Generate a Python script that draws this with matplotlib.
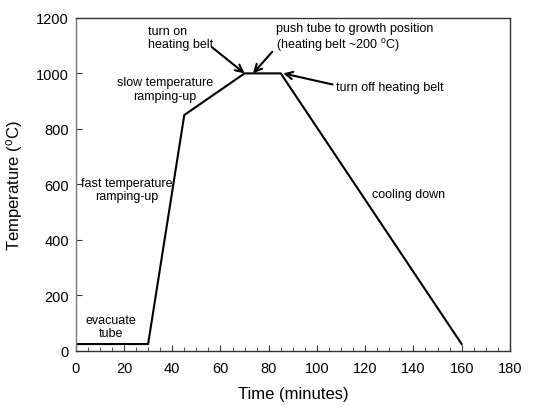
import matplotlib
matplotlib.use("Agg")
import matplotlib.pyplot as plt
from matplotlib.ticker import MultipleLocator

plt.rcParams['font.family'] = ['Liberation Sans', 'DejaVu Sans']
plt.rcParams['mathtext.fontset'] = 'custom'
plt.rcParams['mathtext.rm'] = 'Liberation Sans'
plt.rcParams['mathtext.it'] = 'Liberation Sans'

# data
time_min = [0, 30, 45, 70, 85, 160]
temp_c = [25, 25, 850, 1000, 1000, 25]

labels = ["evacuate\ntube", "fast temperature\nramping-up", "slow temperature\nramping-up", "cooling down"]
label_pos = [(14.5, 89), (21, 582), (37, 944), (138, 564)]

arrow_texts = ["turn on\nheating belt", "push tube to growth position\n(heating belt ~200 $^{\\mathrm{o}}$C)", "turn off heating belt"]
arrow_text_pos = [(30, 1130), (83, 1130), (107.8, 952)]
arrow_start = [(56.5, 1094), (81.5, 1078), (106.5, 960)]
arrow_tip = [(70, 1000), (73.5, 1000), (86, 1000)]

fig = plt.figure(figsize=(5.53, 4.10), dpi=100)
ax = fig.add_axes([0.137, 0.1415, 0.785, 0.8125])

ax.plot(time_min, temp_c, color='black', lw=1.5)

ax.set_xlim(0, 180)
ax.set_ylim(0, 1200)
ax.xaxis.set_major_locator(MultipleLocator(20))
ax.xaxis.set_minor_locator(MultipleLocator(5))
ax.yaxis.set_major_locator(MultipleLocator(200))
ax.tick_params(axis='both', which='both', direction='in', top=False, right=False, labelsize=10.5, color='#333333')
ax.tick_params(axis='both', which='major', length=4, pad=5)
ax.tick_params(axis='x', which='major', pad=7)
ax.tick_params(axis='x', which='minor', length=3)
for s in ax.spines.values():
    s.set_color('#333333')
    s.set_linewidth(1.0)
ax.spines['left'].set_color('#777777')

ax.set_xlabel("Time (minutes)", fontsize=12, labelpad=8)
ax.set_ylabel("Temperature ($^{\\mathrm{o}}$C)", fontsize=12, labelpad=8)

for txt, (x, y) in zip(labels, label_pos):
    ax.text(x, y, txt, ha='center', va='center', fontsize=9, linespacing=1.15)

for txt, (x, y) in zip(arrow_texts, arrow_text_pos):
    ax.text(x, y, txt, ha='left', va='center', fontsize=9, linespacing=1.15)

for (x0, y0), (x1, y1) in zip(arrow_start, arrow_tip):
    ax.annotate('', xy=(x1, y1), xytext=(x0, y0),
                arrowprops=dict(arrowstyle='->', color='black', lw=1.5,
                                shrinkA=0, shrinkB=0, mutation_scale=13))

fig.savefig("out.png", dpi=100)
